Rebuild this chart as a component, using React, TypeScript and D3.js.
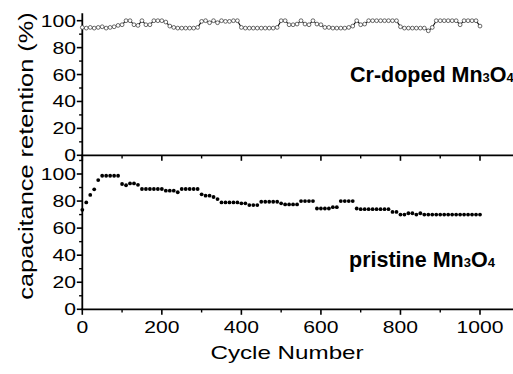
import React from "react";
import * as d3 from "d3";

const cycles: number[] = d3.range(0, 1001, 10);

const crDoped: number[] = [
  95, 94.5, 95, 94.5, 95, 95.5, 94.5, 95, 95.5, 96.5,
  97, 100, 100, 97, 96.5, 100, 97, 97, 100, 100,
  100, 99, 96, 95, 94.5, 94.5, 94.5, 94.5, 94.5, 95,
  99.5, 100, 98.5, 100, 98.5, 100, 99.5, 99.5, 100, 100,
  95, 94.5, 94.5, 94.5, 94.5, 94.5, 94.5, 94.5, 94.5, 95,
  100, 100, 97, 97, 97.5, 100, 97.5, 97, 100, 97.5,
  97, 95, 95, 94.5, 94.5, 94.5, 94.5, 95, 96, 100,
  97, 97.5, 100, 100, 100, 100, 100, 100, 100, 100,
  95.5, 94.5, 94.5, 94.5, 94.5, 94.5, 94.5, 92.5, 95, 100,
  100, 100, 100, 100, 100, 97, 100, 100, 100, 100,
  96,
];

const pristine: number[] = [
  73.5, 79, 84.5, 88.7, 95.5, 98.7, 98.7, 98.7, 98.7, 98.7,
  92.6, 91.7, 93, 93, 92, 88.9, 88.9, 88.9, 88.9, 88.9,
  88.9, 87.7, 87.7, 87.7, 86.5, 88.9, 88.9, 88.9, 88.9, 88.9,
  85, 84, 84, 83, 81.5, 79, 79, 79, 79, 79,
  78.3, 78.3, 77, 77, 77, 79.5, 79.5, 79.5, 79.5, 79.5,
  78.3, 77.5, 77.5, 77.5, 77.5, 80, 80, 80, 80, 74.5,
  74.5, 74.5, 74.5, 75.5, 75.5, 80, 80, 80, 80, 74.5,
  74, 74, 74, 74, 74, 74, 74, 74, 72, 72,
  70, 70, 71, 71, 70, 71, 70, 70, 70, 70,
  70, 70, 70, 70, 70, 70, 70, 70, 70, 70,
  70,
];

const xMajor: number[] = [0, 200, 400, 600, 800, 1000];
const xMinor: number[] = [100, 300, 500, 700, 900];
const yMajor: number[] = [0, 20, 40, 60, 80, 100];
const yMinorTop: number[] = [10, 30, 50, 70, 90];
const yMinorBot: number[] = [10, 30, 50, 70, 90, 110];

const FONT = "'Liberation Sans', Arial, Helvetica, sans-serif";
const SX = 1.28;

function SText(props: {
  x: number;
  y: number;
  size: number;
  anchor?: string;
  rotate?: number;
  sx?: number;
  baseline?: string;
  children: React.ReactNode;
}) {
  const { x, y, size, anchor = "start", rotate = 0, sx = SX, baseline } = props;
  return (
    <text
      transform={`translate(${x},${y}) rotate(${rotate}) scale(${sx},1)`}
      fontFamily={FONT}
      fontSize={size}
      textAnchor={anchor}
      dominantBaseline={baseline}
      fill="#000"
    >
      {props.children}
    </text>
  );
}

export default function App() {
  const W = 513;
  const H = 374;
  const x = d3.scaleLinear().domain([0, 1000]).range([82.3, 480]);
  const yTop = d3.scaleLinear().domain([0, 100]).range([155.3, 20.7]);
  const yBot = d3.scaleLinear().domain([0, 100]).range([309.3, 174]);
  const axX = x(0);
  const xEnd = W;
  const topY0 = yTop(0);
  const botY0 = yBot(0);
  const topEnd = yTop(105.5);

  const crLine = d3
    .line<number>()
    .x((_, i) => x(cycles[i]))
    .y((d) => yTop(d));

  const sw = 1.8;

  return (
    <svg
      width={W}
      height={H}
      style={{ position: "absolute", left: 0, top: 0, background: "#fff" }}
    >
      <rect x={0} y={0} width={W} height={H} fill="#fff" />
      {/* axes lines */}
      <line x1={axX} x2={axX} y1={topEnd} y2={botY0} stroke="#000" strokeWidth={sw} />
      <line x1={axX - 0.9} x2={xEnd} y1={topY0} y2={topY0} stroke="#000" strokeWidth={sw} />
      <line x1={axX - 0.9} x2={xEnd} y1={botY0} y2={botY0} stroke="#000" strokeWidth={sw} />

      {/* x ticks on both horizontal axes */}
      {[topY0, botY0].map((yy, k) => (
        <g key={k}>
          {xMajor.map((v) => (
            <line key={"M" + v} x1={x(v)} x2={x(v)} y1={yy} y2={yy + 5.5} stroke="#000" strokeWidth={1.6} />
          ))}
          {xMinor.map((v) => (
            <line key={"m" + v} x1={x(v)} x2={x(v)} y1={yy} y2={yy + 3.2} stroke="#000" strokeWidth={1.4} />
          ))}
        </g>
      ))}

      {/* y ticks top */}
      {yMajor.map((v) => (
        <line key={"ytM" + v} x1={axX - 5.5} x2={axX} y1={yTop(v)} y2={yTop(v)} stroke="#000" strokeWidth={1.6} />
      ))}
      {yMinorTop.map((v) => (
        <line key={"ytm" + v} x1={axX - 3.2} x2={axX} y1={yTop(v)} y2={yTop(v)} stroke="#000" strokeWidth={1.4} />
      ))}
      {yMajor.map((v) => (
        <line key={"ybM" + v} x1={axX - 5.5} x2={axX} y1={yBot(v)} y2={yBot(v)} stroke="#000" strokeWidth={1.6} />
      ))}
      {yMinorBot.map((v) => (
        <line key={"ybm" + v} x1={axX - 3.2} x2={axX} y1={yBot(v)} y2={yBot(v)} stroke="#000" strokeWidth={1.4} />
      ))}

      {/* y tick labels */}
      {yMajor.map((v) => (
        <SText key={"ylt" + v} x={76} y={yTop(v) + 6} size={16.5} anchor="end">
          {String(v)}
        </SText>
      ))}
      {yMajor.map((v) => (
        <SText key={"ylb" + v} x={76} y={yBot(v) + 6} size={16.5} anchor="end">
          {String(v)}
        </SText>
      ))}

      {/* x tick labels */}
      {xMajor.map((v) => (
        <SText key={"xl" + v} x={x(v)} y={332.7} size={16.5} anchor="middle">
          {String(v)}
        </SText>
      ))}

      {/* axis titles */}
      <SText x={287} y={359} size={18.6} anchor="middle" sx={1.3}>
        Cycle Number
      </SText>
      <SText x={33} y={156} size={19.5} anchor="middle" rotate={-90} sx={1.3}>
        capacitance retention (%)
      </SText>

      {/* Cr-doped series */}
      <path d={crLine(crDoped) || ""} fill="none" stroke="#000" strokeWidth={1.1} />
      {crDoped.map((v, i) => (
        <circle
          key={"c" + i}
          cx={x(cycles[i])}
          cy={yTop(v)}
          r={1.9}
          fill="#fff"
          stroke="#444"
          strokeWidth={0.8}
        />
      ))}

      {/* pristine series */}
      {pristine.map((v, i) => (
        <circle key={"p" + i} cx={x(cycles[i])} cy={yBot(v)} r={1.9} fill="#000" />
      ))}

      {/* annotations */}
      <text x={350} y={82} fontFamily={FONT} fontSize={21.5} fontWeight="bold" fill="#000">
        Cr-doped Mn<tspan fontSize={13}>3</tspan>O<tspan fontSize={13}>4</tspan>
      </text>
      <text x={349} y={267} fontFamily={FONT} fontSize={21.5} fontWeight="bold" fill="#000">
        pristine Mn<tspan fontSize={13}>3</tspan>O<tspan fontSize={13}>4</tspan>
      </text>
    </svg>
  );
}
